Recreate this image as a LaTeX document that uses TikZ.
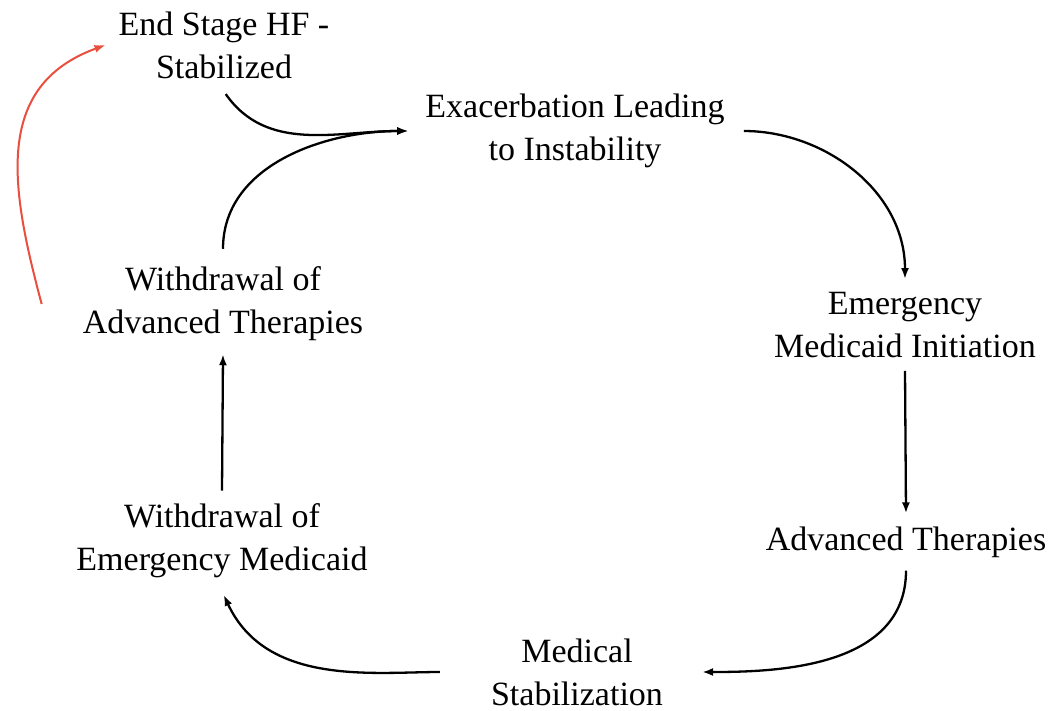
\documentclass[tikz,border=0pt]{standalone}
\usepackage{fontspec}
\setmainfont{Liberation Serif}
\usetikzlibrary{arrows.meta}
\definecolor{loopred}{RGB}{233,78,62}

\begin{document}
\begin{tikzpicture}[x=1pt,y=1pt,>={Latex[length=11pt,width=8pt]},line width=2.3pt,every node/.style={font=\fontsize{34}{43}\selectfont},stage/.style={align=center,inner sep=12pt}]
\useasboundingbox (0,0) rectangle (1051,-711);
\node[stage] (end) at (224,-45) {End Stage HF -\\Stabilized};
\node[stage] (exac) at (575,-131) {Exacerbation Leading\\to Instability};
\node[stage] (emerg) at (905,-325) {Emergency\\Medicaid Initiation};
\node[stage] (adv) at (906,-542) {Advanced Therapies};
\node[stage] (med) at (577,-672) {Medical\\Stabilization};
\node[stage] (wem) at (222,-541) {Withdrawal of\\Emergency Medicaid};
\node[stage] (wat) at (223,-304) {Withdrawal of\\Advanced Therapies};
\draw[->,shorten <=3pt,shorten >=4pt] (end.south) to[out=-55,in=180] (exac.west);
\draw[->,shorten <=5pt,shorten >=4pt] (wat.north) to[out=90,in=180] (exac.west);
\draw[->,shorten <=6pt] (exac.east) to[out=0,in=90] (emerg.north);
\draw[->] (emerg.south) -- (adv.north);
\draw[->,shorten >=26pt] (adv.south) to[out=-90,in=0] (med.east);
\draw[->,shorten <=38pt,shorten >=4pt] (med.west) to[out=180,in=-65] (wem.south);
\draw[->] (wem.north) -- (wat.south);
\draw[->,loopred,line width=2pt] ([xshift=-28pt]wat.west) to[out=105,in=200,looseness=1.15] (end.west);
\end{tikzpicture}
\end{document}
